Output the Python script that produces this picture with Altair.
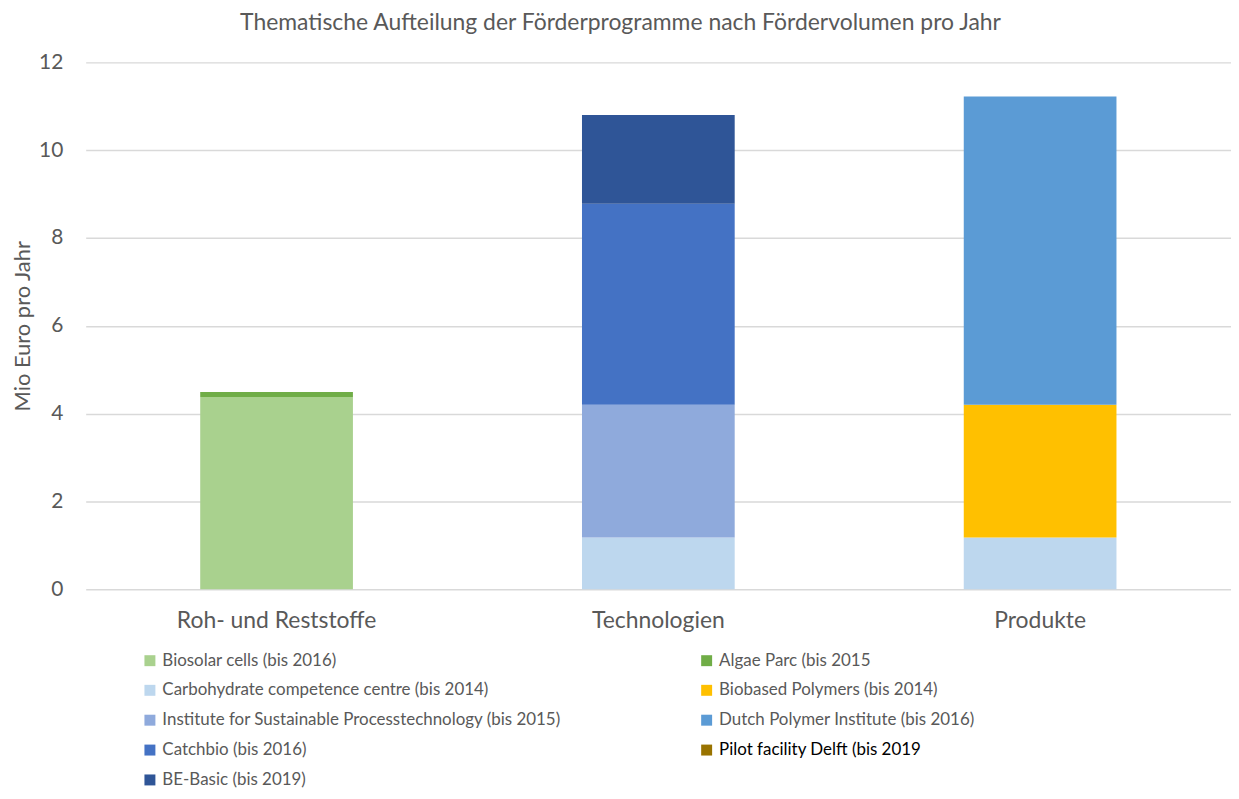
import altair as alt
import pandas as pd

categories = ["Roh- und Reststoffe", "Technologien", "Produkte"]
series = [
    "Biosolar cells (bis 2016)",
    "Algae Parc (bis 2015",
    "Carbohydrate competence centre (bis 2014)",
    "Biobased Polymers (bis 2014)",
    "Institute for Sustainable Processtechnology (bis 2015)",
    "Dutch Polymer Institute (bis 2016)",
    "Catchbio (bis 2016)",
    "Pilot facility Delft (bis 2019",
    "BE-Basic (bis 2019)",
]
colors = ["#A9D18E", "#70AD47", "#BDD7EE", "#FFC000", "#8FAADC",
          "#5B9BD5", "#4472C4", "#997300", "#2F5597"]

# legend is filled column by column: first column, then second column
legend_order = [series[i] for i in [0, 2, 4, 6, 8, 1, 3, 5, 7]]
legend_colors = [colors[i] for i in [0, 2, 4, 6, 8, 1, 3, 5, 7]]

# values per series for [Roh, Technologien, Produkte]
values = {
    "Biosolar cells (bis 2016)": [4.38, 0, 0],
    "Algae Parc (bis 2015": [0.11, 0, 0],
    "Carbohydrate competence centre (bis 2014)": [0, 1.18, 1.18],
    "Biobased Polymers (bis 2014)": [0, 0, 3.02],
    "Institute for Sustainable Processtechnology (bis 2015)": [0, 3.02, 0],
    "Dutch Polymer Institute (bis 2016)": [0, 0, 7.02],
    "Catchbio (bis 2016)": [0, 4.58, 0],
    "Pilot facility Delft (bis 2019": [0, 0, 0],
    "BE-Basic (bis 2019)": [0, 2.02, 0],
}

rows = []
for i, s in enumerate(series):
    for c, v in zip(categories, values[s]):
        rows.append({"Kategorie": c, "Programm": s, "Wert": v, "ord": i})
df = pd.DataFrame(rows)

FONT = "Lato"
GREY = "#595959"

chart = alt.Chart(df).mark_bar().encode(
    x=alt.X("Kategorie:N", sort=categories, title=None,
            scale=alt.Scale(paddingInner=0.6, paddingOuter=0.3),
            axis=alt.Axis(labelAngle=0, labelFontSize=23, labelColor=GREY,
                          labelFont=FONT, ticks=False, domain=False,
                          labelPadding=20, labelLimit=400)),
    y=alt.Y("Wert:Q", stack="zero", title="Mio Euro pro Jahr",
            scale=alt.Scale(domain=[0, 12]),
            axis=alt.Axis(values=[0, 2, 4, 6, 8, 10, 12], labelFontSize=21,
                          labelColor=GREY, labelFont=FONT, ticks=False,
                          domain=False, gridColor="#D9D9D9", gridWidth=1.5,
                          labelPadding=23, titleFontSize=22, titleColor=GREY,
                          titleFont=FONT, titleFontWeight="normal",
                          titlePadding=4)),
    color=alt.Color("Programm:N",
                    scale=alt.Scale(domain=legend_order, range=legend_colors),
                    legend=alt.Legend(
                        title=None, orient="none", legendX=56, legendY=592,
                        columns=2, columnPadding=137, rowPadding=12,
                        symbolType="square", symbolSize=121,
                        symbolStrokeWidth=0, labelFontSize=17,
                        labelFont=FONT, labelLimit=600,
                        labelOffset=4,
                        labelColor=alt.ExprRef(expr="datum.label == 'Pilot facility Delft (bis 2019' ? '#000000' : '#595959'"))),
    order=alt.Order("ord:Q"),
).properties(
    width=1150, height=529,
    title=alt.TitleParams("Thematische Aufteilung der Förderprogramme nach Fördervolumen pro Jahr",
                          fontSize=23, font=FONT, color=GREY, fontWeight="normal",
                          anchor="middle", dx=-38, offset=17),
    padding={"left": 78, "top": 53, "right": 0, "bottom": 201},
    autosize="none",
).configure_view(stroke=None)

chart.save("out.html", embed_options={"renderer": "svg", "actions": False})
